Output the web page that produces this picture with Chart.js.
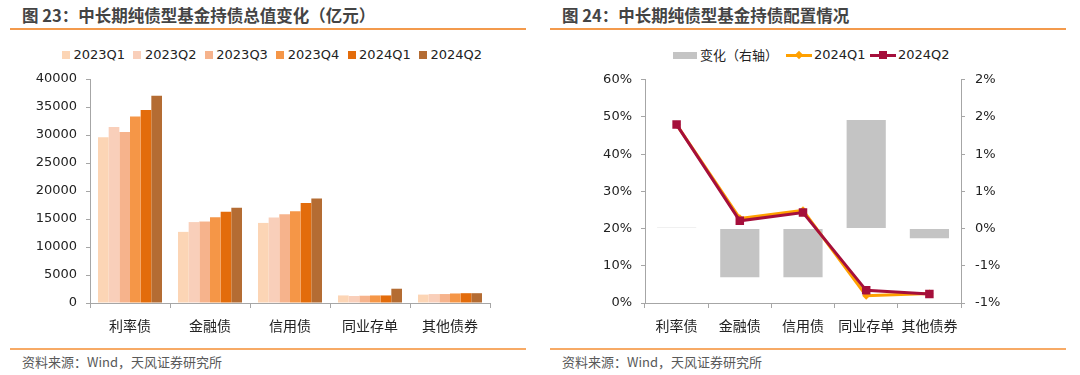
<!DOCTYPE html>
<html>
<head>
<meta charset="utf-8">
<script src="https://cdn.jsdelivr.net/npm/chart.js@4.4.1/dist/chart.umd.min.js"></script>
<style>
  body { margin: 0; width: 1080px; height: 375px; background: #fff; position: relative; overflow: hidden;
         font-family: "DejaVu Sans", "Noto Sans CJK SC", sans-serif; }
  .panel { position: absolute; top: 0; width: 540px; height: 375px; }
  .title { position: absolute; left: 22px; top: 4px; font-size: 16.5px; line-height: 22px; font-weight: bold;
           color: #444; font-family: "Noto Sans CJK SC", sans-serif; white-space: nowrap; }
  .rule { position: absolute; left: 10px; width: 516px; height: 2px; }
  .top-rule { top: 28px; background: #F39A4C; }
  .foot-rule { top: 348px; background: #F7AA66; }
  .source { position: absolute; left: 22px; top: 353px; font-size: 13px; line-height: 18px; color: #595959;
            font-family: "Noto Sans CJK SC", sans-serif; white-space: nowrap; }
  .legend { position: absolute; top: 46px; height: 18px; font-size: 13px; color: #222; white-space: nowrap; }
  .legend span { position: absolute; top: 0; line-height: 18px; }
  .legend i { position: absolute; display: block; }
  canvas { position: absolute; }
</style>
</head>
<body>

<div class="panel" style="left:0">
  <div class="title">图 23：中长期纯债型基金持债总值变化（亿元）</div>
  <div class="rule top-rule"></div>
  <div class="legend" id="legend-left"></div>
  <canvas id="totalChart" width="540" height="278" style="left:0;top:62px"></canvas>
  <div class="rule foot-rule"></div>
  <div class="source">资料来源：Wind，天风证券研究所</div>
</div>

<div class="panel" style="left:540px">
  <div class="title">图 24：中长期纯债型基金持债配置情况</div>
  <div class="rule top-rule"></div>
  <div class="legend" id="legend-right" style="left:0;width:540px">
    <i style="left:133px;top:6px;width:24px;height:7px;background:#C4C4C4"></i>
    <span style="left:160px;font-family:'Noto Sans CJK SC'">变化（右轴）</span>
    <i style="left:246px;top:8px;width:26px;height:3px;background:#FFA000"></i>
    <i style="left:256px;top:6px;width:6px;height:6px;background:#FFA000;transform:rotate(45deg)"></i>
    <span style="left:274px">2024Q1</span>
    <i style="left:330px;top:8px;width:26px;height:3px;background:#A50F3B"></i>
    <i style="left:339px;top:5px;width:8px;height:8px;background:#A50F3B"></i>
    <span style="left:358px">2024Q2</span>
  </div>
  <canvas id="allocChart" width="540" height="278" style="left:0;top:62px"></canvas>
  <div class="rule foot-rule"></div>
  <div class="source">资料来源：Wind，天风证券研究所</div>
</div>

<script>
// Categorias (mesmas nos dois gráficos)
const categorias = ['利率债', '金融债', '信用债', '同业存单', '其他债券'];

// Gráfico 23: total de títulos (亿元)
const trimestres = ['2023Q1', '2023Q2', '2023Q3', '2023Q4', '2024Q1', '2024Q2'];
const total2023Q1 = [29600, 12700, 14300, 1350, 1500];
const total2023Q2 = [31450, 14450, 15250, 1250, 1600];
const total2023Q3 = [30550, 14550, 15850, 1300, 1600];
const total2023Q4 = [33300, 15300, 16400, 1350, 1700];
const total2024Q1 = [34450, 16300, 17850, 1350, 1750];
const total2024Q2 = [37000, 17000, 18650, 2550, 1750];
const coresTrimestre = ['#FCD5B5', '#F9CFBA', '#F6B38C', '#F59647', '#E36C0B', '#B46C33'];

// Gráfico 24: alocação (%) e variação (eixo direito, %)
const aloc2024Q1 = [47.95, 22.75, 24.9, 1.95, 2.55];
const aloc2024Q2 = [47.96, 22.1, 24.3, 3.4, 2.45];
const variacao = [0.01, -0.655, -0.655, 1.46, -0.13];

// Ticks do eixo
const ticksTotal = [0, 5000, 10000, 15000, 20000, 25000, 30000, 35000, 40000];

const corEixo = '#A6A6A6';
const fonteTick = { family: '"DejaVu Sans", "Noto Sans CJK SC", sans-serif', size: 13 };
const fonteCat = { family: '"Noto Sans CJK SC", sans-serif', size: 14 };

// Legenda HTML do gráfico 23
const legLeft = document.getElementById('legend-left');
trimestres.forEach((t, i) => {
  const x = 62 + i * 71.4;
  legLeft.insertAdjacentHTML('beforeend',
    `<i style="left:${x}px;top:5px;width:8px;height:8px;background:${coresTrimestre[i]}"></i>` +
    `<span style="left:${x + 11.5}px">${t}</span>`);
});

const totais = [total2023Q1, total2023Q2, total2023Q3, total2023Q4, total2024Q1, total2024Q2];

new Chart(document.getElementById('totalChart'), {
  type: 'bar',
  data: {
    labels: categorias,
    datasets: trimestres.map((t, i) => ({
      label: t,
      data: totais[i],
      backgroundColor: coresTrimestre[i],
      categoryPercentage: 0.8,
      barPercentage: 1.0
    }))
  },
  options: {
    responsive: false,
    animation: false,
    layout: { padding: { top: 17, right: 50, bottom: 0, left: 0 } },
    plugins: { legend: { display: false }, tooltip: { enabled: false } },
    scales: {
      x: {
        afterFit: s => { s.height = 37; },
        border: { color: corEixo },
        grid: { drawOnChartArea: false, offset: true, tickLength: 5, color: corEixo },
        ticks: { font: fonteCat, color: '#222', padding: 9, maxRotation: 0 }
      },
      y: {
        min: 0, max: 40000,
        afterFit: s => { s.width = 90; },
        afterBuildTicks: s => { s.ticks = ticksTotal.map(v => ({ value: v })); },
        border: { color: corEixo },
        grid: { drawOnChartArea: false, tickLength: 4, color: corEixo },
        ticks: { font: fonteTick, color: '#222', padding: 9, callback: v => String(v) }
      }
    }
  }
});

// Arredondamento tipo Excel (-0.5 -> -1)
const pctRedondo = v => (Math.sign(v) * Math.round(Math.abs(v))) + '%';

new Chart(document.getElementById('allocChart'), {
  data: {
    labels: categorias,
    datasets: [
      {
        type: 'line', label: '2024Q2', data: aloc2024Q2, yAxisID: 'y', order: 0,
        borderColor: '#A50F3B', backgroundColor: '#A50F3B', borderWidth: 3, tension: 0,
        pointStyle: 'rect', pointRadius: 6, pointBorderWidth: 0
      },
      {
        type: 'line', label: '2024Q1', data: aloc2024Q1, yAxisID: 'y', order: 1,
        borderColor: '#FFA000', backgroundColor: '#FFA000', borderWidth: 3, tension: 0,
        pointStyle: 'rectRot', pointRadius: 4, pointBorderWidth: 0
      },
      {
        type: 'bar', label: '变化（右轴）', data: variacao, yAxisID: 'y1', order: 2,
        backgroundColor: '#C4C4C4', categoryPercentage: 1.0, barPercentage: 0.62
      }
    ]
  },
  options: {
    responsive: false,
    animation: false,
    layout: { padding: { top: 15, right: 0, bottom: 0, left: 0 } },
    plugins: { legend: { display: false }, tooltip: { enabled: false } },
    scales: {
      x: {
        afterFit: s => { s.height = 37; },
        offset: true,
        border: { color: corEixo },
        grid: { drawOnChartArea: false, offset: true, tickLength: 5, color: corEixo },
        ticks: { font: fonteCat, color: '#222', padding: 9, maxRotation: 0 }
      },
      y: {
        position: 'left',
        min: 0, max: 60,
        afterFit: s => { s.width = 105; },
        border: { color: corEixo },
        grid: { drawOnChartArea: false, tickLength: 4, color: corEixo },
        ticks: { stepSize: 10, font: fonteTick, color: '#222', padding: 9, callback: v => v + '%' }
      },
      y1: {
        position: 'right',
        min: -1, max: 2,
        afterFit: s => { s.width = 119; },
        border: { color: corEixo },
        grid: { drawOnChartArea: false, tickLength: 4, color: corEixo },
        ticks: { stepSize: 0.5, font: fonteTick, color: '#222', padding: 10, callback: v => pctRedondo(v) }
      }
    }
  }
});
</script>
</body>
</html>
